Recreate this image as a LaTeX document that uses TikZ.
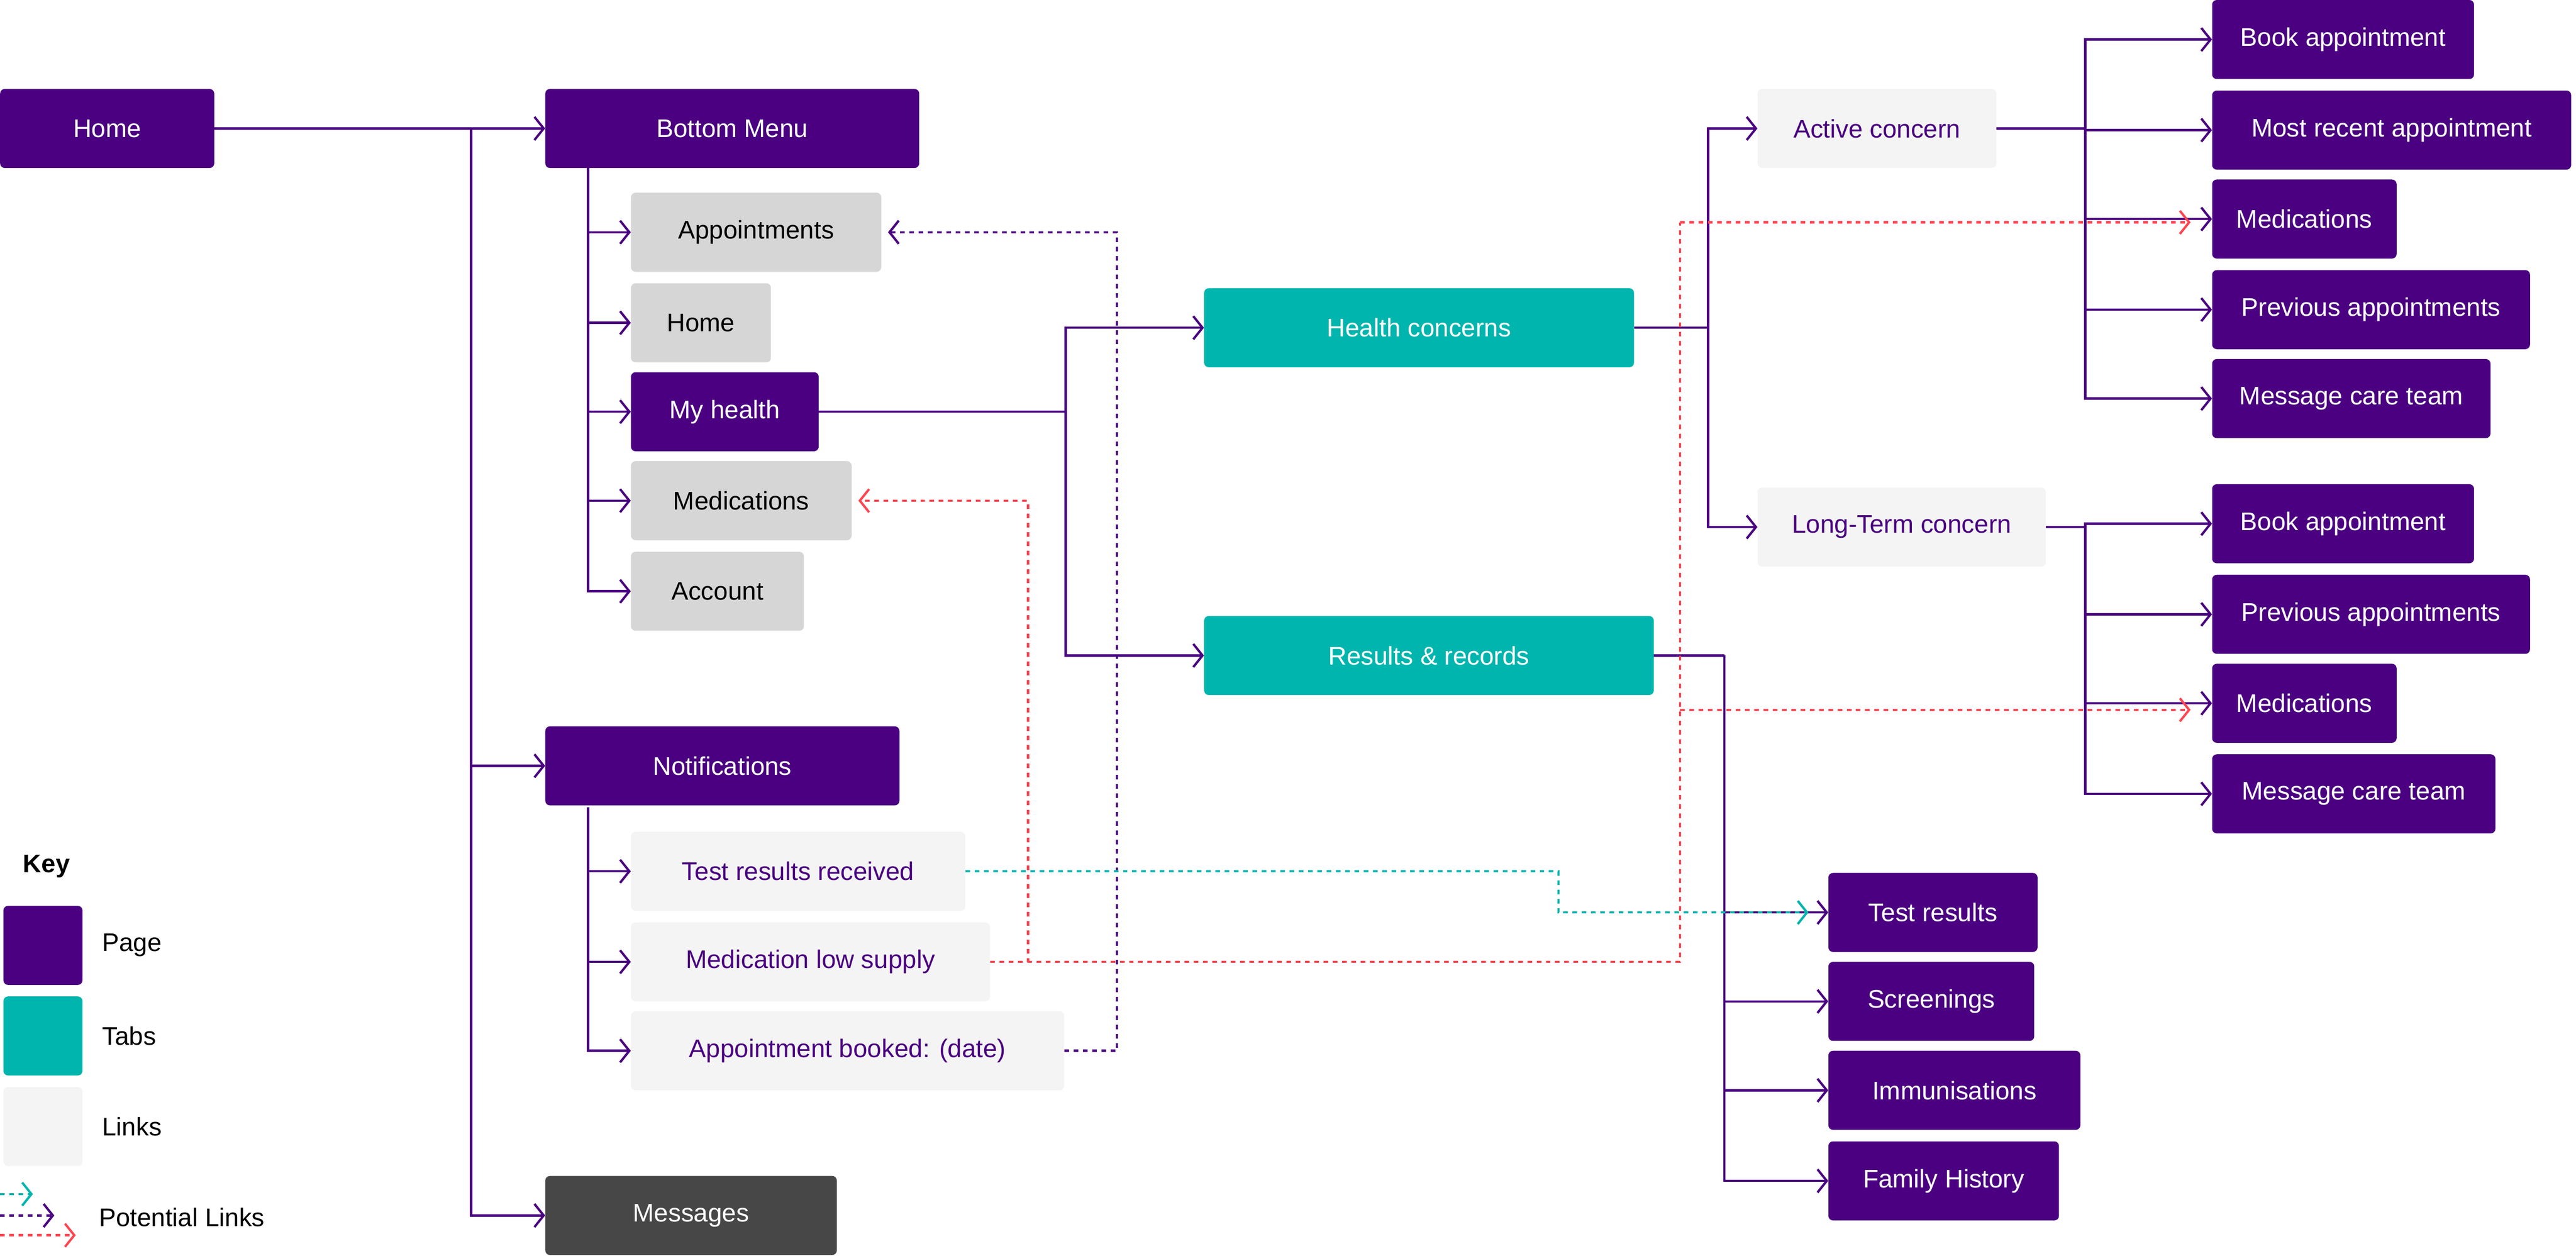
\documentclass[tikz,border=0pt]{standalone}
\usepackage{fontspec}
\setmainfont{Liberation Sans}
\usepackage{tikz}
\usetikzlibrary{positioning}
\usetikzlibrary{arrows.meta}
\usetikzlibrary{calc}

\definecolor{pagec}{HTML}{4A0080}
\definecolor{tabc}{HTML}{00B5AD}
\definecolor{linkc}{HTML}{F4F4F4}
\definecolor{menuc}{HTML}{D6D6D6}
\definecolor{msgc}{HTML}{474747}
\definecolor{redc}{HTML}{FF4550}

\begin{document}
\begin{tikzpicture}[ x = 1mm, y = -1mm
                     , font = \fontsize{44}{52}\selectfont
                     , >={Straight Barb[length=16pt, width=40pt, line width=4pt]}
                     , every node/.style = { rectangle
                                         , rounded corners = 8pt
                                         , anchor = west
                                         , minimum height = 48mm
                                         , inner sep = 0pt }
                     ]

    \tikzset{ page/.style = {fill=pagec, text=white}
            , tab/.style = {fill=tabc, text=white}
            , link/.style = {fill=linkc, text=pagec}
            , menu/.style = {fill=menuc, text=black}
            , msg/.style = {fill=msgc, text=white}
            , wire/.style = {draw=pagec, line width=4pt, ->}
            , maybe/.style = {line width=4pt, ->, dash pattern=on 8pt off 8pt}}
    \useasboundingbox (0,0) rectangle (1564,762.3);
    %%
    %% Nodes
    %%
    \node (home)     [page, minimum width=130mm] at (0,78)    {Home};
    \node (bmenu)    [page, minimum width=227mm] at (331,78)  {Bottom Menu};
    \node (appts)    [menu, minimum width=152mm] at (383,141) {Appointments};
    \node (home2)    [menu, minimum width=85mm]  at (383,196) {Home};
    \node (myhealth) [page, minimum width=114mm] at (383,250) {My health};
    \node (meds)     [menu, minimum width=134mm] at (383,304) {Medications};
    \node (account)  [menu, minimum width=105mm] at (383,359) {Account};
    \node (notif)    [page, minimum width=215mm] at (331,465) {Notifications};
    \node (testrec)  [link, minimum width=203mm] at (383,529) {Test results received};
    \node (medlow)   [link, minimum width=218mm] at (383,584) {Medication low supply};
    \node (apptbk)   [link, minimum width=263mm] at (383,638) {Appointment booked: (date)};
    \node (msgs)     [msg, minimum width=177mm]  at (331,738) {Messages};
    \node (hconc)    [tab, minimum width=261mm]  at (731,199) {Health concerns};
    \node (results)  [tab, minimum width=273mm]  at (731,398) {Results \& records};
    \node (active)   [link, minimum width=145mm] at (1067,78) {Active concern};
    \node (longterm) [link, minimum width=175mm] at (1067,320) {Long-Term concern};

    \node (abook)    [page, minimum width=159mm] at (1343,24)  {Book appointment};
    \node (arecent)  [page, minimum width=218mm] at (1343,79)  {Most recent appointment};
    \node (ameds)    [page, minimum width=112mm] at (1343,133) {Medications};
    \node (aprev)    [page, minimum width=193mm] at (1343,188) {Previous appointments};
    \node (amsg)     [page, minimum width=169mm] at (1343,242) {Message care team};
    \node (lbook)    [page, minimum width=159mm] at (1343,318) {Book appointment};
    \node (lprev)    [page, minimum width=193mm] at (1343,373) {Previous appointments};
    \node (lmeds)    [page, minimum width=112mm] at (1343,427) {Medications};
    \node (lmsg)     [page, minimum width=172mm] at (1343,482) {Message care team};

    \node (tres)     [page, minimum width=127mm] at (1110,554) {Test results};
    \node (screen)   [page, minimum width=125mm] at (1110,608) {Screenings};
    \node (immun)    [page, minimum width=153mm] at (1110,662) {Immunisations};
    \node (family)   [page, minimum width=140mm] at (1110,717) {Family History};

    %% Key
    \node (key)      [fill=none, minimum height=0pt, font=\fontsize{44}{52}\selectfont\bfseries] at (14,526) {Key};
    \node (kpage)    [page, minimum width=48mm] at (2,574) {};
    \node (ktab)     [tab, minimum width=48mm]  at (2,629) {};
    \node (klink)    [link, minimum width=48mm] at (2,684) {};
    \node (kpagel)   [minimum height=0pt] at (62,574) {Page};
    \node (ktabl)    [minimum height=0pt] at (62,629) {Tabs};
    \node (klinkl)   [minimum height=0pt] at (62,684) {Links};
    \node (kpot)     [minimum height=0pt] at (60,739) {Potential Links};

    %%
    %% Connectors
    %%
    \coordinate (hsplit)  at (286,78);
    \coordinate (bmtrunk) at (357,102);
    \coordinate (nftrunk) at (357,490);
    \coordinate (mhsplit) at (647,250);
    \coordinate (hcsplit) at (1037,199);
    \coordinate (acsplit) at (1266,78);
    \coordinate (ltsplit) at (1266,320);
    \coordinate (rrsplit) at (1047,398);

    \draw[wire] (home) -- (bmenu);
    \draw[wire] (hsplit) |- (notif);
    \draw[wire] (hsplit) |- (msgs);
    \foreach \n in {appts,home2,myhealth,meds,account}
      \draw[wire] (bmtrunk) |- (\n);
    \foreach \n in {testrec,medlow,apptbk}
      \draw[wire] (nftrunk) |- (\n);
    \draw[wire] (myhealth) -- (mhsplit) |- (hconc);
    \draw[wire] (mhsplit) |- (results);
    \draw[wire] (hconc) -- (hcsplit) |- (active);
    \draw[wire] (hcsplit) |- (longterm);
    \draw[-, draw=pagec, line width=4pt] (active) -- (acsplit);
    \foreach \n in {abook,arecent,ameds,aprev,amsg}
      \draw[wire] (acsplit) |- (\n);
    \draw[-, draw=pagec, line width=4pt] (longterm) -- (ltsplit);
    \foreach \n in {lbook,lprev,lmeds,lmsg}
      \draw[wire] (ltsplit) |- (\n);
    \draw[-, draw=pagec, line width=4pt] (results.east) -- (rrsplit);
    \foreach \n in {tres,screen,immun,family}
      \draw[wire] (rrsplit) |- (\n);

    %% potential links
    \coordinate (redup)   at (1020,135);
    \coordinate (reddown) at (1020,431);
    \draw[maybe, draw=pagec, shorten >=4mm] (apptbk.east) -- ++(32,0) |- (appts);
    \draw[maybe, draw=redc, shorten >=4mm] (medlow.east) -- ++(23,0) |- (meds);
    \draw[maybe, draw=redc, -] (medlow.east) -| (redup);
    \draw[maybe, draw=redc, shorten >=13mm] (redup) -- (ameds.west |- redup);
    \draw[maybe, draw=redc, shorten >=13mm] (reddown) -- (lmeds.west |- reddown);
    \draw[maybe, draw=tabc, shorten >=12mm] (testrec.east) -- ++(360,0) |- (tres);

    \coordinate (k1) at (0,725);
    \coordinate (k2) at (0,738);
    \coordinate (k3) at (0,750);
    \draw[maybe, draw=tabc] (k1) -- ++(20,0);
    \draw[maybe, draw=pagec] (k2) -- ++(33,0);
    \draw[maybe, draw=redc] (k3) -- ++(46,0);
  \end{tikzpicture}
\end{document}
